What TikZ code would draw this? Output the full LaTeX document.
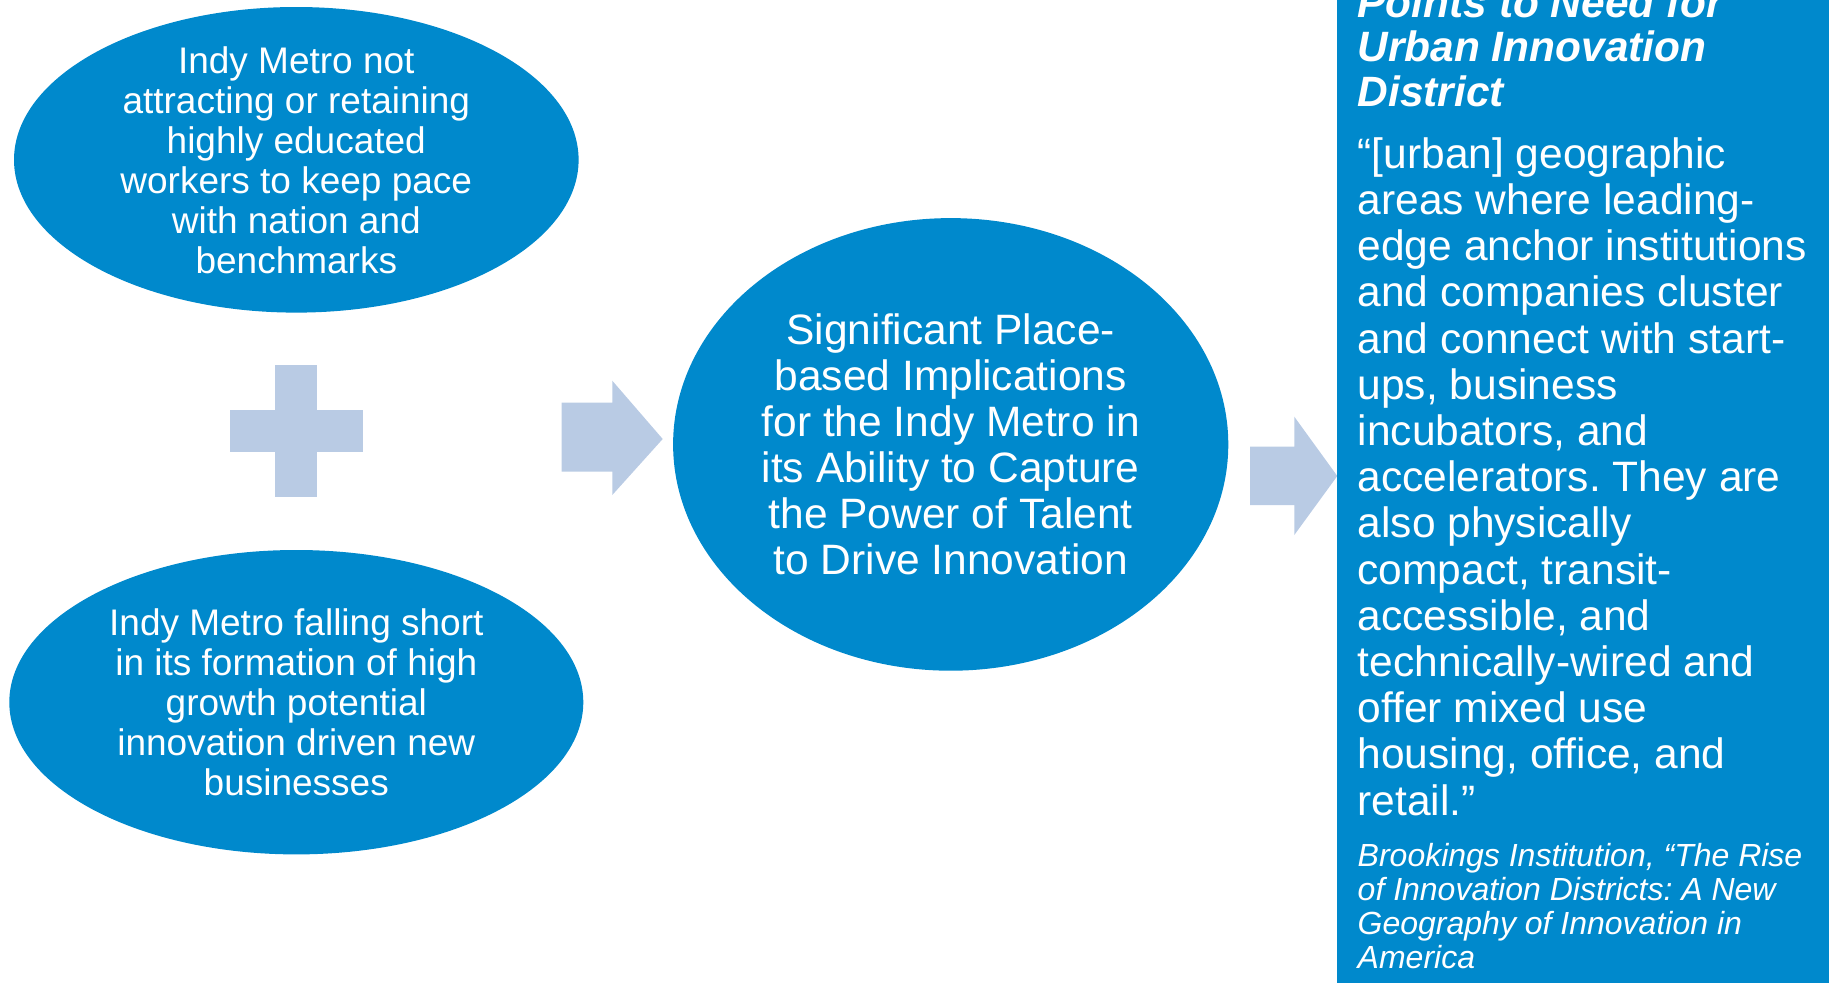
\documentclass[tikz,border=0pt]{standalone}
\usepackage{fontspec}
\setmainfont{Liberation Sans}
\usetikzlibrary{shapes.geometric}
\definecolor{bubbleblue}{RGB}{0,137,204}
\definecolor{paleblue}{RGB}{185,203,228}
\frenchspacing
\begin{document}
\begin{tikzpicture}[x=1pt,y=-1pt,
  bubble/.style={ellipse, fill=bubbleblue, inner sep=0pt},
  btext/.style={text=white, align=center, inner sep=0pt, font=\fontsize{37}{40}\selectfont},
  ctext/.style={text=white, align=center, inner sep=0pt, font=\fontsize{42.5}{46}\selectfont},
  titletext/.style={text=white, align=left, inner sep=0pt, anchor=base west, font=\fontsize{42.4}{44.8}\selectfont\bfseries\itshape},
  bodytext/.style={text=white, align=left, inner sep=0pt, anchor=base west, font=\fontsize{42.5}{46.2}\selectfont},
  citetext/.style={text=white, align=left, inner sep=0pt, anchor=base west, font=\fontsize{32}{33.7}\selectfont\itshape},
  pale/.style={fill=paleblue}]
\useasboundingbox (0,0) rectangle (1829,983);
% left bubbles
\node[bubble, minimum width=564.6pt, minimum height=305.6pt] (e1) at (296.3,159.8) {};
\node[btext] (t1) at (e1.center) {Indy Metro not\\attracting or retaining\\highly educated\\workers to keep pace\\with nation and\\benchmarks};
\node[bubble, minimum width=574pt, minimum height=304.4pt] (e2) at (296.3,702.2) {};
\node[btext] (t2) at (e2.center) {Indy Metro falling short\\in its formation of high\\growth potential\\innovation driven new\\businesses};
% plus
\fill[pale] (275,365) rectangle (317.3,496.7);
\fill[pale] (230,410) rectangle (362.7,452);
% arrow 1
\fill[pale] (561.7,402.7) -- (612.3,402.7) -- (612.3,380.7) -- (662.7,439) -- (612.3,495) -- (612.3,471.7) -- (561.7,471.7) -- cycle;
% centre bubble
\node[bubble, minimum width=555.2pt, minimum height=452.6pt] (e3) at (950.7,444.4) {};
\node[ctext] (t3) at (e3.center) {Significant Place-\\based Implications\\for the Indy Metro in\\its Ability to Capture\\the Power of Talent\\to Drive Innovation};
% arrow 2
\fill[pale] (1250,446.7) -- (1294.3,446.7) -- (1294.3,416.7) -- (1337.3,476) -- (1294.3,535) -- (1294.3,505) -- (1250,505) -- cycle;
% right box
\node[fill=bubbleblue, inner sep=0pt, minimum width=492.3pt, minimum height=983pt, anchor=north west] (box) at (1336.7,0) {};
\node[titletext] (title) at (1357.5,106.6) {Points to Need for\\Urban Innovation\\District};
\node[bodytext] (body) at (1357.5,815) {“[urban] geographic\\areas where leading-\\edge anchor institutions\\and companies cluster\\and connect with start-\\ups, business\\incubators, and\\accelerators. They are\\also physically\\compact, transit-\\accessible, and\\technically-wired and\\offer mixed use\\housing, office, and\\retail.”};
\node[citetext] (cite) at (1357.5,968) {Brookings Institution, “The Rise\\of Innovation Districts: A New\\Geography of Innovation in\\America};
\end{tikzpicture}
\end{document}
